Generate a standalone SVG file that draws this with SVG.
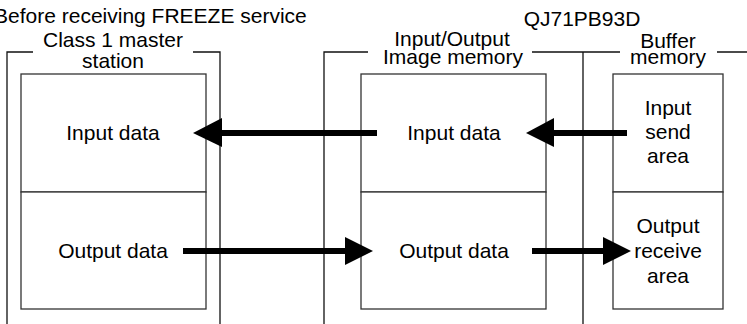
<svg xmlns="http://www.w3.org/2000/svg" width="747" height="324" viewBox="0 0 747 324">
<style>
text{font-family:"Liberation Sans",Arial,sans-serif;font-size:21px;fill:#000;text-anchor:middle}
.frame{fill:none;stroke:#111;stroke-width:1.3}
.box{fill:#fff;stroke:#333;stroke-width:1.3}
.arr{stroke:#000;stroke-width:6;fill:none}
.head{fill:#000}
</style>
<rect width="747" height="324" fill="#fff"/>
<text x="-6" y="23" style="text-anchor:start">Before receiving FREEZE service</text>
<text x="582" y="26">QJ71PB93D</text>
<g id="master">
<path class="frame" d="M7,324 V52 H33 M193,52 H220 V324"/>
<text x="113" y="47">Class 1 master</text>
<text x="113" y="68">station</text>
</g>
<g id="master-input">
<rect class="box" x="21" y="74" width="185" height="118"/>
<text x="113" y="140">Input data</text>
</g>
<g id="master-output">
<rect class="box" x="21" y="192" width="185" height="117"/>
<text x="113" y="258">Output data</text>
</g>
<g id="qj71">
<path class="frame" d="M324,324 V52 H368 M532,52 H620 M717,52 H747 M583,52 V324"/>
<text x="452" y="46">Input/Output</text>
<text x="453" y="64">Image memory</text>
<text x="668" y="48">Buffer</text>
<text x="668" y="64">memory</text>
</g>
<g id="io-input">
<rect class="box" x="361" y="74" width="185" height="118"/>
<text x="454" y="140">Input data</text>
</g>
<g id="io-output">
<rect class="box" x="361" y="192" width="185" height="117"/>
<text x="454" y="258">Output data</text>
</g>
<g id="buf-input">
<rect class="box" x="613" y="74" width="110" height="118"/>
<text x="668" y="115">Input</text>
<text x="668" y="139">send</text>
<text x="668" y="163">area</text>
</g>
<g id="buf-output">
<rect class="box" x="613" y="192" width="110" height="117"/>
<text x="668" y="233">Output</text>
<text x="668" y="258">receive</text>
<text x="668" y="283">area</text>
</g>
<g id="connectors">
<line class="arr" x1="377" y1="133" x2="220" y2="133"/>
<polygon class="head" points="193,133 222,118 222,147"/>
<line class="arr" x1="627" y1="133" x2="552" y2="133"/>
<polygon class="head" points="526,133 554,118 554,147"/>
<line class="arr" x1="183" y1="251" x2="347" y2="251"/>
<polygon class="head" points="373,251 345,237 345,265"/>
<line class="arr" x1="532" y1="251" x2="605" y2="251"/>
<polygon class="head" points="631,251 603,237 603,265"/>
</g>
</svg>
